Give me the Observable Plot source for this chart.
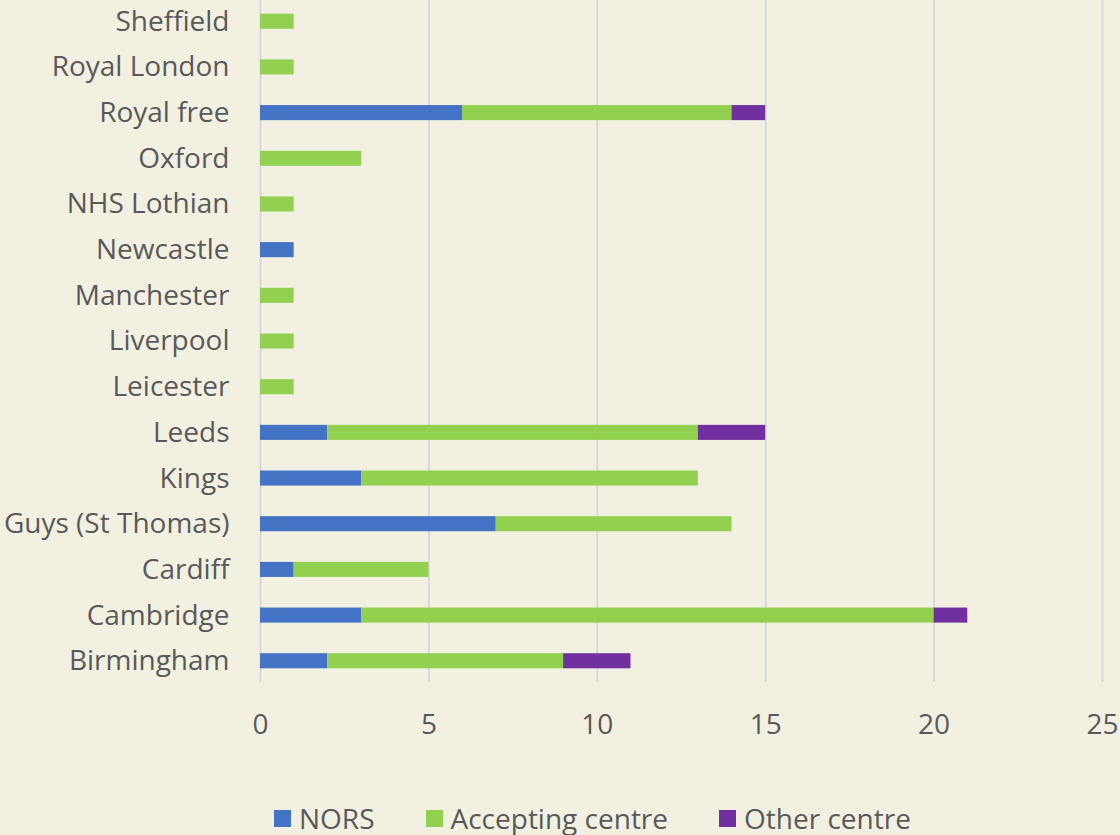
<!DOCTYPE html>
<html>
<head>
<meta charset="utf-8">
<script src="https://cdn.jsdelivr.net/npm/d3@7"></script>
<script src="https://cdn.jsdelivr.net/npm/@observablehq/plot@0.6"></script>
<style>
  html, body { margin: 0; padding: 0; background: #F2F1E1; }
  body { width: 1120px; height: 835px; overflow: hidden; font-family: "Open Sans", sans-serif; }
  #chart svg { display: block; }
  #legend { display: flex; justify-content: flex-start; align-items: center; padding-left: 274px; margin-top: 41px; font-size: 28px; color: #595959; line-height: 30px; height: 30px; }
  .item { display: flex; align-items: center; margin-right: 51px; }
  .sw { width: 17px; height: 17px; margin-right: 8px; }
</style>
</head>
<body>
<div id="chart"></div>
<div id="legend"></div>
<script>
const centres = ["Sheffield","Royal London","Royal free","Oxford","NHS Lothian","Newcastle","Manchester","Liverpool","Leicester","Leeds","Kings","Guys (St Thomas)","Cardiff","Cambridge","Birmingham"];
const nors      = [0,0,6,0,0,1,0,0,0,2,3,7,1,3,2];
const accepting = [1,1,8,3,1,0,1,1,1,11,10,7,4,17,7];
const other     = [0,0,1,0,0,0,0,0,0,2,0,0,0,1,2];
const seriesNames = ["NORS","Accepting centre","Other centre"];
const seriesColors = ["#4472C4","#92D050","#7030A0"];
const xTicks = [0,5,10,15,20,25];

const series = [nors, accepting, other];
const rows = [];
centres.forEach((c, i) => {
  series.forEach((vals, s) => {
    rows.push({centre: c, series: seriesNames[s], value: vals[i]});
  });
});

const plot = Plot.plot({
  width: 1120,
  height: 762,
  marginLeft: 260,
  marginRight: 18,
  marginTop: 0,
  marginBottom: 80,
  style: {background: "#F2F1E1", fontFamily: "Open Sans, sans-serif", fontSize: "28px", color: "#595959"},
  x: {domain: [0, 25], ticks: xTicks, tickFormat: d => String(d), label: null},
  y: {domain: centres, label: null, paddingInner: 0.67, paddingOuter: 0.3, round: false},
  color: {domain: seriesNames, range: seriesColors},
  marks: [
    Plot.gridX(xTicks, {stroke: "#D9D9D9", strokeOpacity: 1, strokeWidth: 2}),
    Plot.barX(rows, Plot.stackX({x: "value", y: "centre", fill: "series", order: seriesNames})),
    Plot.axisX({ticks: xTicks, tickSize: 0, tickPadding: 32, fill: "#595959", fontSize: 28, label: null}),
    Plot.axisY({tickSize: 0, tickPadding: 31, fill: "#595959", fontSize: 28, label: null})
  ]
});
document.getElementById("chart").appendChild(plot);

const legend = document.getElementById("legend");
seriesNames.forEach((n, i) => {
  const it = document.createElement("div");
  it.className = "item";
  const sw = document.createElement("div");
  sw.className = "sw";
  sw.style.background = seriesColors[i];
  const t = document.createElement("span");
  t.textContent = n;
  it.appendChild(sw); it.appendChild(t);
  legend.appendChild(it);
});
</script>
</body>
</html>
